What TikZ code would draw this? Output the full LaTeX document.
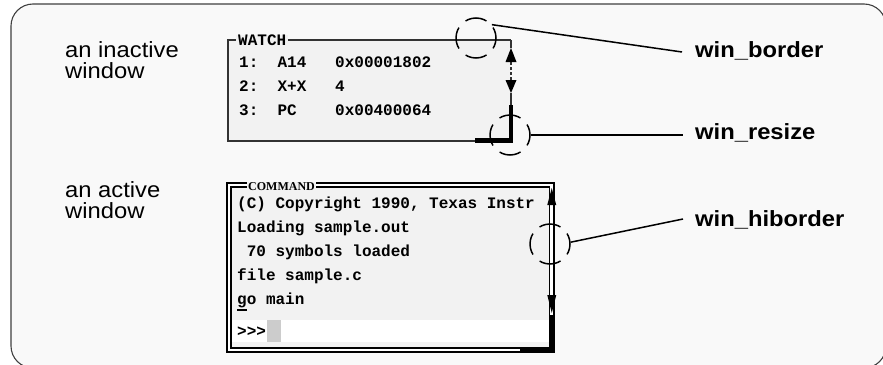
\documentclass[tikz,border=0pt]{standalone}
\usepackage{fontspec}
\setmainfont{Liberation Sans}
\newfontfamily\monof{Liberation Mono}
\newfontfamily\serf{Liberation Serif}
\usetikzlibrary{arrows.meta}
\definecolor{framebg}{HTML}{F9F9F9}
\definecolor{winbg}{HTML}{F2F2F2}
\definecolor{framecol}{HTML}{404040}
\definecolor{cursorcol}{HTML}{CCCCCC}
\newcommand\sx[1]{\scalebox{1.08}[1]{#1}}
\begin{document}
\begin{tikzpicture}[x=1pt,y=-1pt,
  mono/.style={inner sep=0pt,anchor=base west,font=\monof\bfseries\fontsize{16}{16}\selectfont},
  sidelbl/.style={inner sep=0pt,anchor=base west,font=\fontsize{22}{21}\selectfont},
  partlbl/.style={inner sep=0pt,anchor=base west,font=\bfseries\fontsize{22}{21}\selectfont},
  thinborder/.style={draw=black!80,line width=1.1pt},
  dblborder/.style={draw=black,line width=1.1pt},
  marker/.style={circle,draw=black,line width=1.5pt,minimum size=40pt,inner sep=0pt,
     dash pattern=on 22pt off 9.4pt,dash phase=11pt},
  leader/.style={draw=black,line width=1.5pt},
  resizecorner/.style={draw=black,line width=4.5pt},
  arrowhead/.style={fill=black}]
\useasboundingbox (0,0) rectangle (883,364);
\fill[white] (0,0) rectangle (883,364);
\draw[framecol,fill=framebg,line width=1.1pt,rounded corners=22pt] (11,4) rectangle (886,368);

% ---------- inactive window ----------
\fill[winbg] (228,40) rectangle (511,141);
\draw[thinborder] (511,40) -- (228,40) -- (228,141) -- (511,141);
\draw[thinborder] (511,40) -- (511,48);
\draw[thinborder,dash pattern=on 3pt off 2pt] (511,62) -- (511,80);
\draw[thinborder] (511,93) -- (511,106);
\fill[arrowhead] (511,48) -- (505.5,62) -- (516.5,62) -- cycle;
\fill[arrowhead] (511,93) -- (505.5,80) -- (516.5,80) -- cycle;
\draw[resizecorner] (511,105) -- (511,140.5) -- (475,140.5);
\node[mono,anchor=west,fill=winbg,inner xsep=2pt] (watchtitle) at (236,40) {WATCH};
\node[mono] (w1) at (239,67.5) {1:\ \ A14\ \ \ 0x00001802};
\node[mono] (w2) at (239,91.5) {2:\ \ X+X\ \ \ 4};
\node[mono] (w3) at (239,115.5) {3:\ \ PC\ \ \ \ 0x00400064};

% ---------- active window ----------
\fill[white] (227,183) rectangle (554,352);
\fill[winbg] (231,187) rectangle (549.5,348);
\fill[white] (231,320) rectangle (549.5,342);
\fill[cursorcol] (267,320) rectangle (281,342);
\draw[dblborder] (227,183) rectangle (554,352);
\draw[dblborder] (231,187) rectangle (549.5,348);
\fill[arrowhead] (551.75,188) -- (547.25,205) -- (556.25,205) -- cycle;
\fill[arrowhead] (551.75,313) -- (547.25,295) -- (556.25,295) -- cycle;
\draw[draw=black,line width=6pt] (551.75,315) -- (551.75,350) -- (520,350);
\node[inner xsep=1pt,inner ysep=1pt,fill=winbg,anchor=south west,
      font=\serf\bfseries\fontsize{12}{12}\selectfont] (cmdtitle) at (247,192) {COMMAND};
\node[mono] (c1) at (237,208.5) {(C) Copyright 1990, Texas Instr};
\node[mono] (c2) at (237,232.5) {Loading sample.out};
\node[mono] (c3) at (237,256.5) {\ 70 symbols loaded};
\node[mono] (c4) at (237,280.5) {file sample.c};
\node[mono] (c5) at (237,304.5) {go main};
\draw[black,line width=2pt] ([yshift=-5pt]c5.base west) -- ++(10,0);
\node[mono] (prompt) at (237,336) {>>>};

% ---------- side labels ----------
\node[sidelbl] (inact) at (65,57.3) {\vtop{\baselineskip=21pt\hbox{\sx{an inactive}}\hbox{\sx{window}}}};
\node[sidelbl] (act) at (65,197.3) {\vtop{\baselineskip=21pt\hbox{\sx{an active}}\hbox{\sx{window}}}};

% ---------- markers and callouts ----------
\node[marker] (cb) at (476,38) {};
\node[marker] (cr) at (510,135) {};
\node[marker] (ch) at (550,244) {};
\node[partlbl] (lborder) at (695,57.7) {\sx{win\_border}};
\node[partlbl] (lresize) at (695,139.3) {\sx{win\_resize}};
\node[partlbl] (lhib) at (695,226.7) {\sx{win\_hiborder}};
\coordinate (pb) at (682,52);
\coordinate (pr) at (683,135);
\coordinate (ph) at (683,219);
\draw[leader] (cb.40) -- (pb);
\draw[leader] (cr.east) -- (pr);
\draw[leader] (ch.5) -- (ph);
\end{tikzpicture}
\end{document}
